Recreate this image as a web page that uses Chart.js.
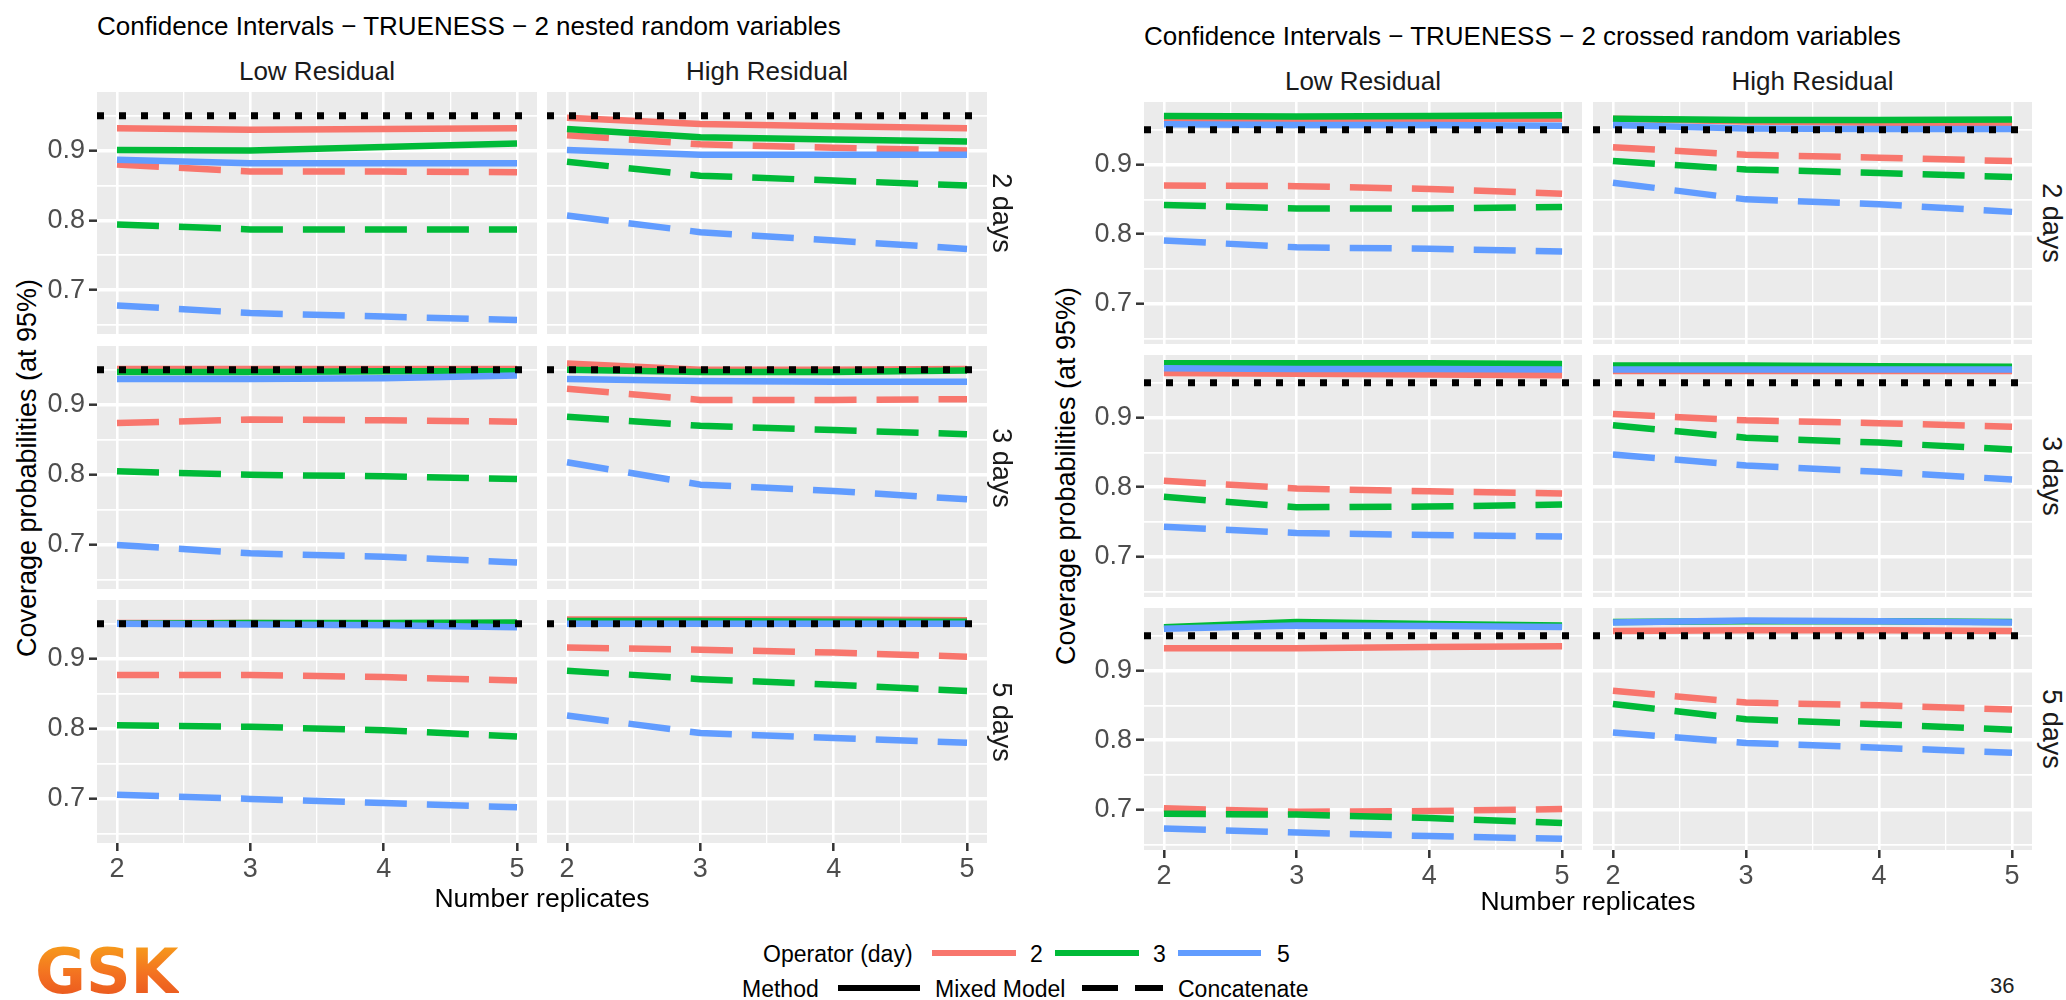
<!DOCTYPE html>
<html><head><meta charset="utf-8">
<script src="https://cdn.jsdelivr.net/npm/chart.js@4.4.0/dist/chart.umd.min.js"></script>
<style>
html,body{margin:0;padding:0;background:#fff;}
#root{position:relative;width:2066px;height:1000px;overflow:hidden;font-family:"Liberation Sans",Arial,sans-serif;}
.t{position:absolute;white-space:nowrap;line-height:1;}
canvas{position:absolute;}
.key{position:absolute;height:6px;}
</style></head><body><div id="root"></div>
<script>
// ---------------- data ----------------
const replicates = [2, 3, 4, 5];
const xGridTicks = [2, 2.5, 3, 3.5, 4, 4.5, 5];
const xLabelTicks = [2, 3, 4, 5];
const yGridTicks = [0.65, 0.7, 0.75, 0.8, 0.85, 0.9, 0.95];
const yLabelTicks = [0.7, 0.8, 0.9];
const operators = ['2', '3', '5'];
const methods = ['Mixed Model', 'Concatenate'];
const residualLevels = ['Low Residual', 'High Residual'];
const dayLevels = ['2 days', '3 days', '5 days'];
const nominalCoverage = [0.95];

// nested design (left figure)
const nested_2d_low  = {op2_mm:[0.932,0.930,0.931,0.932], op2_cc:[0.880,0.870,0.870,0.869], op3_mm:[0.901,0.900,0.905,0.910], op3_cc:[0.794,0.787,0.787,0.787], op5_mm:[0.887,0.882,0.882,0.882], op5_cc:[0.678,0.667,0.662,0.657]};
const nested_2d_high = {op2_mm:[0.947,0.938,0.935,0.932], op2_cc:[0.922,0.909,0.904,0.900], op3_mm:[0.931,0.919,0.916,0.913], op3_cc:[0.884,0.864,0.857,0.850], op5_mm:[0.901,0.894,0.894,0.894], op5_cc:[0.807,0.783,0.771,0.759]};
const nested_3d_low  = {op2_mm:[0.951,0.951,0.951,0.951], op2_cc:[0.874,0.879,0.878,0.876], op3_mm:[0.947,0.947,0.948,0.948], op3_cc:[0.805,0.800,0.798,0.794], op5_mm:[0.937,0.937,0.938,0.942], op5_cc:[0.700,0.688,0.683,0.675]};
const nested_3d_high = {op2_mm:[0.959,0.950,0.950,0.951], op2_cc:[0.923,0.907,0.907,0.908], op3_mm:[0.950,0.947,0.947,0.949], op3_cc:[0.883,0.870,0.864,0.858], op5_mm:[0.937,0.934,0.933,0.933], op5_cc:[0.818,0.786,0.777,0.765]};
const nested_5d_low  = {op2_mm:[0.951,0.951,0.950,0.950], op2_cc:[0.877,0.877,0.874,0.869], op3_mm:[0.950,0.951,0.951,0.952], op3_cc:[0.805,0.803,0.798,0.789], op5_mm:[0.950,0.949,0.948,0.945], op5_cc:[0.706,0.700,0.694,0.688]};
const nested_5d_high = {op2_mm:[0.956,0.956,0.956,0.955], op2_cc:[0.916,0.913,0.909,0.903], op3_mm:[0.954,0.954,0.953,0.953], op3_cc:[0.883,0.871,0.863,0.854], op5_mm:[0.950,0.950,0.950,0.950], op5_cc:[0.819,0.794,0.787,0.780]};

// crossed design (right figure)
const crossed_2d_low  = {op2_mm:[0.966,0.966,0.966,0.966], op2_cc:[0.870,0.869,0.865,0.858], op3_mm:[0.970,0.969,0.970,0.971], op3_cc:[0.842,0.837,0.837,0.839], op5_mm:[0.958,0.957,0.957,0.956], op5_cc:[0.791,0.781,0.779,0.775]};
const crossed_2d_high = {op2_mm:[0.966,0.962,0.960,0.958], op2_cc:[0.925,0.914,0.910,0.905], op3_mm:[0.966,0.964,0.964,0.965], op3_cc:[0.905,0.893,0.888,0.882], op5_mm:[0.957,0.952,0.951,0.951], op5_cc:[0.874,0.850,0.843,0.832]};
const crossed_3d_low  = {op2_mm:[0.964,0.963,0.962,0.961], op2_cc:[0.809,0.798,0.794,0.791], op3_mm:[0.978,0.978,0.978,0.977], op3_cc:[0.786,0.771,0.772,0.775], op5_mm:[0.971,0.970,0.970,0.969], op5_cc:[0.743,0.734,0.731,0.729]};
const crossed_3d_high = {op2_mm:[0.967,0.967,0.967,0.967], op2_cc:[0.905,0.896,0.892,0.887], op3_mm:[0.975,0.975,0.974,0.973], op3_cc:[0.889,0.871,0.864,0.854], op5_mm:[0.969,0.969,0.969,0.969], op5_cc:[0.847,0.831,0.822,0.811]};
const crossed_5d_low  = {op2_mm:[0.932,0.932,0.934,0.935], op2_cc:[0.702,0.697,0.698,0.701], op3_mm:[0.9625,0.970,0.967,0.965], op3_cc:[0.694,0.693,0.688,0.681], op5_mm:[0.960,0.965,0.964,0.9625], op5_cc:[0.673,0.667,0.662,0.658]};
const crossed_5d_high = {op2_mm:[0.957,0.958,0.958,0.957], op2_cc:[0.871,0.854,0.850,0.844], op3_mm:[0.970,0.971,0.971,0.970], op3_cc:[0.852,0.830,0.823,0.815], op5_mm:[0.969,0.972,0.971,0.969], op5_cc:[0.811,0.796,0.789,0.782]};

// ---------------- layout / style ----------------
const XMIN = 1.85, XMAX = 5.15;
const nestedY = [0.637, 0.984];
const crossedY = [0.642, 0.990];
const opColors = ['#F8766D', '#00BA38', '#619CFF'];
const YAXW = 55, XAXH = 44;
const LEFT_COLS = [[97,537],[547,987]];
const LEFT_ROWS = [[92,334],[346,589],[600,843]];
const RIGHT_COLS = [[1144,1582],[1593,2032]];
const RIGHT_ROWS = [[102,344],[355,597],[608,850]];
const FONT = '"Liberation Sans", Arial, sans-serif';
Chart.defaults.font.family = FONT;

const root = document.getElementById('root');
const near = (a, b) => Math.abs(a - b) < 1e-9;

const panelBg = {
  id: 'panelBg',
  beforeDraw(chart) {
    const {ctx, chartArea: a} = chart;
    ctx.save(); ctx.fillStyle = '#EBEBEB';
    ctx.fillRect(a.left, a.top, a.right - a.left, a.bottom - a.top);
    ctx.restore();
  }
};

function makePanel(series, cols, rows, ci, ri, yr) {
  const [x0, x1] = cols[ci], [y0, y1] = rows[ri];
  const showY = ci === 0, showX = ri === rows.length - 1;
  const padL = showY ? YAXW : 0, padB = showX ? XAXH : 0;
  const w = x1 - x0 + padL, h = y1 - y0 + padB;
  const cv = document.createElement('canvas');
  cv.width = w; cv.height = h;
  cv.style.left = (x0 - padL) + 'px'; cv.style.top = y0 + 'px';
  cv.style.width = w + 'px'; cv.style.height = h + 'px';
  root.appendChild(cv);
  const datasets = [{
    data: [{x: XMIN, y: nominalCoverage[0]}, {x: XMAX, y: nominalCoverage[0]}],
    borderColor: '#000', borderWidth: 7, borderDash: [7, 15], order: 0, clip: 0
  }];
  operators.forEach((op, oi) => {
    methods.forEach((m, mi) => {
      const vals = series['op' + op + (mi === 0 ? '_mm' : '_cc')];
      datasets.push({
        data: replicates.map((r, i) => ({x: r, y: vals[i]})),
        borderColor: opColors[oi], borderWidth: 6.5,
        borderDash: mi === 0 ? [] : [42, 20], order: 3 - oi
      });
    });
  });
  const zeroPad = s => { s.paddingLeft = s.paddingRight = s.paddingTop = s.paddingBottom = 0; };
  new Chart(cv, {
    type: 'line',
    data: {datasets},
    plugins: [panelBg],
    options: {
      responsive: false, animation: false, devicePixelRatio: 1, events: [],
      layout: {padding: 0},
      plugins: {legend: {display: false}, tooltip: {enabled: false}},
      elements: {point: {radius: 0}, line: {tension: 0, borderCapStyle: 'butt', borderJoinStyle: 'round', fill: false}},
      scales: {
        x: {
          type: 'linear', min: XMIN, max: XMAX, bounds: 'data',
          afterBuildTicks: s => { s.ticks = xGridTicks.map(v => ({value: v})); },
          afterFit: s => { s.height = padB; zeroPad(s); },
          border: {display: false},
          grid: {
            color: '#FFFFFF',
            lineWidth: c => (c.tick && xLabelTicks.some(t => near(t, c.tick.value))) ? 2.6 : 1.3,
            drawTicks: showX, tickLength: 8, tickWidth: 2.5,
            tickColor: c => (c.tick && xLabelTicks.some(t => near(t, c.tick.value))) ? '#333333' : 'rgba(0,0,0,0)'
          },
          ticks: {
            display: showX, autoSkip: false, maxRotation: 0, padding: 2, color: '#4D4D4D',
            font: {size: 27},
            callback: v => xLabelTicks.some(t => near(t, v)) ? String(v) : ''
          }
        },
        y: {
          type: 'linear', min: yr[0], max: yr[1], bounds: 'data',
          afterBuildTicks: s => { s.ticks = yGridTicks.map(v => ({value: v})); },
          afterFit: s => { s.width = padL; zeroPad(s); },
          border: {display: false},
          grid: {
            color: '#FFFFFF',
            lineWidth: c => (c.tick && yLabelTicks.some(t => near(t, c.tick.value))) ? 3.4 : 1.7,
            drawTicks: showY, tickLength: 8, tickWidth: 2.5,
            tickColor: c => (c.tick && yLabelTicks.some(t => near(t, c.tick.value))) ? '#333333' : 'rgba(0,0,0,0)'
          },
          ticks: {
            display: showY, autoSkip: false, padding: 4, color: '#4D4D4D',
            font: {size: 27},
            callback: v => yLabelTicks.some(t => near(t, v)) ? v.toFixed(1) : ''
          }
        }
      }
    }
  });
}

const nestedPanels = [[nested_2d_low, nested_2d_high], [nested_3d_low, nested_3d_high], [nested_5d_low, nested_5d_high]];
const crossedPanels = [[crossed_2d_low, crossed_2d_high], [crossed_3d_low, crossed_3d_high], [crossed_5d_low, crossed_5d_high]];
nestedPanels.forEach((row, ri) => row.forEach((s, ci) => makePanel(s, LEFT_COLS, LEFT_ROWS, ci, ri, nestedY)));
crossedPanels.forEach((row, ri) => row.forEach((s, ci) => makePanel(s, RIGHT_COLS, RIGHT_ROWS, ci, ri, crossedY)));

// ---------------- text ----------------
function addText(txt, x, y, size, opts = {}) {
  const d = document.createElement('div');
  d.className = 't';
  d.textContent = txt;
  d.style.left = x + 'px'; d.style.top = y + 'px';
  d.style.fontSize = size + 'px';
  d.style.color = opts.color || '#000';
  const anchor = opts.anchor || 'center';
  let tr = anchor === 'left' ? 'translate(0,-50%)' : 'translate(-50%,-50%)';
  if (opts.rot) tr += ' rotate(' + opts.rot + 'deg)';
  d.style.transform = tr;
  if (opts.family) d.style.fontFamily = opts.family;
  if (opts.weight) d.style.fontWeight = opts.weight;
  root.appendChild(d);
  return d;
}

function decorate(title, cols, rows, titleY, stripY, stripX, yTitleX, xTitleY) {
  addText(title, cols[0][0], titleY, 26, {anchor: 'left'});
  residualLevels.forEach((r, i) => addText(r, (cols[i][0] + cols[i][1]) / 2, stripY, 26, {color: '#1A1A1A'}));
  dayLevels.forEach((d, i) => addText(d, stripX, (rows[i][0] + rows[i][1]) / 2, 27, {color: '#1A1A1A', rot: 90}));
  addText('Coverage probabilities (at 95%)', yTitleX, (rows[0][0] + rows[2][1]) / 2, 27, {rot: -90});
  addText('Number replicates', (cols[0][0] + cols[1][1]) / 2, xTitleY, 26.5);
}
decorate('Confidence Intervals \u2212 TRUENESS \u2212 2 nested random variables', LEFT_COLS, LEFT_ROWS, 26, 71, 1001, 27, 898);
decorate('Confidence Intervals \u2212 TRUENESS \u2212 2 crossed random variables', RIGHT_COLS, RIGHT_ROWS, 36, 81, 2051, 1066, 901);

// legend
addText('Operator (day)', 763, 954, 23, {anchor: 'left'});
function key(x0, x1, y, color) {
  const k = document.createElement('div');
  k.className = 'key';
  k.style.left = x0 + 'px'; k.style.width = (x1 - x0) + 'px';
  k.style.top = (y - 3) + 'px'; k.style.background = color;
  root.appendChild(k);
}
const legendKeyX = [[932,1016],[1055,1139],[1178,1261]];
const legendLabelX = [1030, 1153, 1277];
operators.forEach((op, i) => {
  key(legendKeyX[i][0], legendKeyX[i][1], 953, opColors[i]);
  addText(op, legendLabelX[i], 954, 23, {anchor: 'left'});
});
addText('Method', 742, 989, 23, {anchor: 'left'});
key(838, 920, 988, '#000');
addText(methods[0], 935, 989, 23, {anchor: 'left'});
key(1082, 1118, 988, '#000');
key(1135, 1163, 988, '#000');
addText(methods[1], 1178, 989, 23, {anchor: 'left'});

// logo & page number
const logo = addText('GSK', 35, 972, 62, {anchor: 'left', family: '"DejaVu Sans", sans-serif', weight: 'bold'});
logo.style.background = 'linear-gradient(180deg,#F7A11A 0%,#F37021 55%,#E8531F 100%)';
logo.style.webkitBackgroundClip = 'text';
logo.style.backgroundClip = 'text';
logo.style.color = 'transparent';
addText('36', 1990, 986, 22, {anchor: 'left', color: '#222'});
</script></body></html>
